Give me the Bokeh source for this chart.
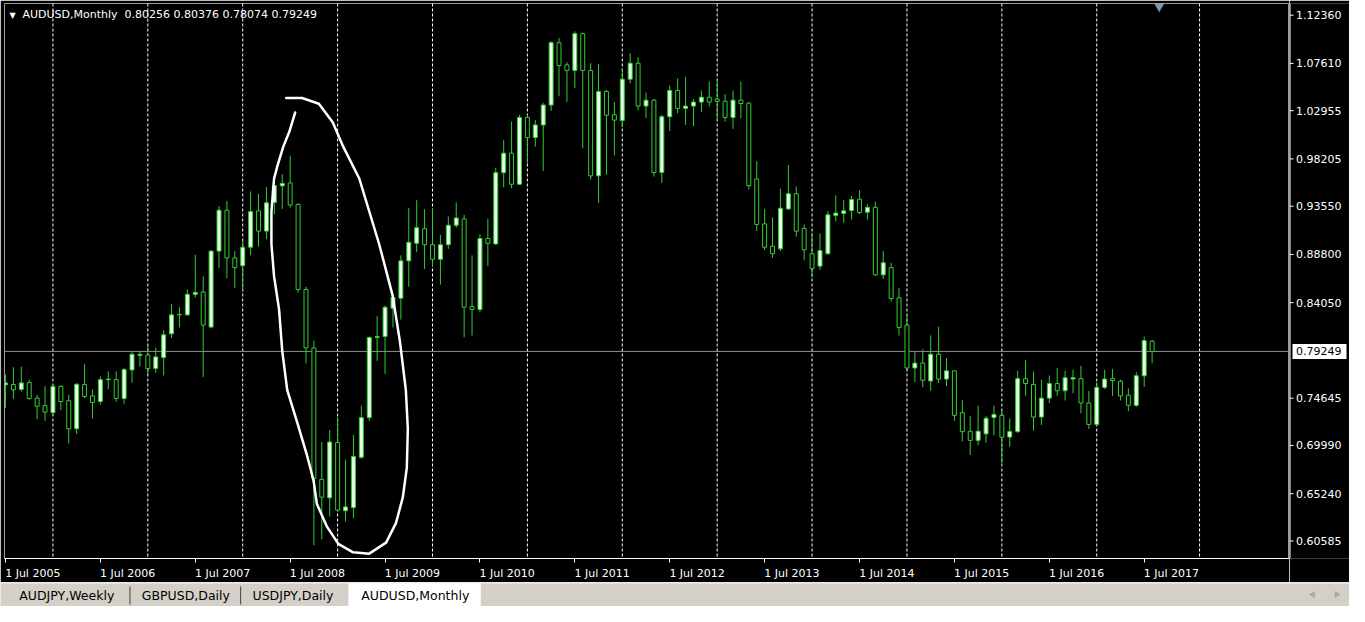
from bokeh.plotting import figure
from bokeh.models import Range1d, LinearAxis, FixedTicker, Span, Label, ColumnDataSource
from bokeh.layouts import column, row
from bokeh.embed import file_html
from bokeh.resources import INLINE
from bokeh.core.properties import value

# ---------------- data (AUDUSD monthly, Jul 2005 .. Aug 2017) ----------------
opens = [0.7595, 0.7599, 0.7551, 0.7618, 0.7465, 0.7391, 0.7322, 0.7580, 0.7439, 0.7164,
         0.7599, 0.7487, 0.7432, 0.7647, 0.7647, 0.7461, 0.7743, 0.7884, 0.7890, 0.7758,
         0.7864, 0.8098, 0.8285, 0.8285, 0.8487, 0.8510, 0.8165, 0.8913, 0.9316, 0.8846,
         0.8769, 0.8951, 0.9309, 0.9110, 0.9392, 0.9555, 0.9584, 0.9373, 0.8535, 0.7960,
         0.6665, 0.6483, 0.7027, 0.6356, 0.6387, 0.6883, 0.7273, 0.8062, 0.8072, 0.8350,
         0.8449, 0.8817, 0.8990, 0.9133, 0.8976, 0.8832, 0.8976, 0.9168, 0.9229, 0.8366,
         0.8338, 0.9037, 0.8983, 0.9685, 0.9877, 0.9571, 1.0229, 1.0031, 1.0155, 1.0351,
         1.0965, 1.0747, 1.0692, 1.1054, 1.0692, 0.9654, 1.0485, 1.0255, 1.0198, 1.0606,
         1.0763, 1.0341, 1.0399, 0.9686, 1.0236, 1.0495, 1.0318, 1.0341, 1.0380, 1.0428,
         1.0409, 1.0389, 1.0229, 1.0399, 1.0370, 0.9622, 0.9181, 0.8961, 0.8935, 0.9328,
         0.9478, 0.9136, 0.8887, 0.8765, 0.8887, 0.9264, 0.9283, 0.9312, 0.9424, 0.9296,
         0.9344, 0.8679, 0.8750, 0.8453, 0.8184, 0.7762, 0.7810, 0.7634, 0.7897, 0.7653,
         0.7734, 0.7321, 0.7139, 0.7049, 0.7113, 0.7273, 0.7295, 0.7082, 0.7135, 0.7657,
         0.7599, 0.7279, 0.7465, 0.7609, 0.7538, 0.7653, 0.7657, 0.7417, 0.7206, 0.7571,
         0.7657, 0.7631, 0.7494, 0.7394, 0.7685, 0.80256]
highs = [0.7698, 0.7768, 0.7775, 0.7647, 0.7497, 0.7583, 0.7593, 0.7593, 0.7497, 0.7609,
         0.7800, 0.7551, 0.7679, 0.7729, 0.7729, 0.7762, 0.7919, 0.7928, 0.7986, 0.7960,
         0.8136, 0.8391, 0.8360, 0.8535, 0.8877, 0.8664, 0.8919, 0.9357, 0.9405, 0.8913,
         0.9015, 0.9500, 0.9478, 0.9542, 0.9622, 0.9670, 0.9852, 0.9383, 0.8561, 0.8031,
         0.7033, 0.7151, 0.7273, 0.6858, 0.7103, 0.7391, 0.8072, 0.8273, 0.8376, 0.8465,
         0.8871, 0.9335, 0.9414, 0.9325, 0.9335, 0.9072, 0.9254, 0.9392, 0.9270, 0.8871,
         0.9079, 0.9232, 0.9734, 1.0006, 1.0188, 1.0255, 1.0255, 1.0203, 1.0373, 1.0980,
         1.1013, 1.0773, 1.1076, 1.1066, 1.0763, 1.0757, 1.0500, 1.0383, 1.0709, 1.0862,
         1.0821, 1.0476, 1.0411, 1.0255, 1.0543, 1.0613, 1.0629, 1.0411, 1.0495, 1.0581,
         1.0596, 1.0459, 1.0495, 1.0581, 1.0380, 0.9798, 0.9328, 0.9245, 0.9526, 0.9760,
         0.9549, 0.9175, 0.9095, 0.9088, 0.9309, 0.9462, 0.9414, 0.9456, 0.9510, 0.9373,
         0.9398, 0.8913, 0.8798, 0.8551, 0.8295, 0.7919, 0.7945, 0.8082, 0.8168, 0.7858,
         0.7736, 0.7449, 0.7289, 0.7391, 0.7289, 0.7391, 0.7334, 0.7265, 0.7736, 0.7839,
         0.7727, 0.7647, 0.7688, 0.7762, 0.7736, 0.7746, 0.7784, 0.7535, 0.7619, 0.7746,
         0.7753, 0.7647, 0.7561, 0.7720, 0.8072, 0.80376]
lows = [0.7369, 0.7458, 0.7528, 0.7449, 0.7257, 0.7241, 0.7299, 0.7347, 0.7017, 0.7113,
        0.7465, 0.7263, 0.7400, 0.7554, 0.7430, 0.7410, 0.7615, 0.7775, 0.7705, 0.7711,
        0.7688, 0.8056, 0.8161, 0.8273, 0.8456, 0.7672, 0.8152, 0.8743, 0.8647, 0.8552,
        0.8513, 0.8871, 0.8957, 0.9031, 0.9273, 0.9328, 0.9341, 0.8503, 0.7806, 0.6017,
        0.6075, 0.6298, 0.6346, 0.6250, 0.6282, 0.6867, 0.7241, 0.7832, 0.7705, 0.8161,
        0.8238, 0.8561, 0.8903, 0.8736, 0.8765, 0.8583, 0.8935, 0.9143, 0.8065, 0.8082,
        0.8312, 0.8765, 0.8976, 0.9542, 0.9532, 0.9565, 0.9781, 0.9942, 0.9702, 1.0293,
        1.0437, 1.0383, 1.0517, 0.9925, 0.9616, 0.9389, 0.9664, 0.9855, 1.0133, 1.0565,
        1.0299, 1.0223, 0.9647, 0.9584, 1.0095, 1.0270, 1.0155, 1.0143, 1.0284, 1.0338,
        1.0198, 1.0188, 1.0117, 1.0220, 0.9520, 0.9110, 0.8925, 0.8849, 0.8913, 0.9318,
        0.9053, 0.8823, 0.8657, 0.8727, 0.8877, 0.9206, 0.9191, 0.9223, 0.9277, 0.9223,
        0.8669, 0.8638, 0.8417, 0.8082, 0.7736, 0.7624, 0.7571, 0.7538, 0.7615, 0.7583,
        0.7241, 0.7039, 0.6905, 0.7001, 0.7024, 0.7097, 0.6826, 0.6986, 0.7123, 0.7487,
        0.7145, 0.7200, 0.7417, 0.7487, 0.7442, 0.7513, 0.7315, 0.7161, 0.7193, 0.7554,
        0.7487, 0.7442, 0.7337, 0.7379, 0.7576, 0.78074]
closes = [0.7615, 0.7547, 0.7615, 0.7461, 0.7385, 0.7327, 0.7580, 0.7432, 0.7164, 0.7602,
          0.7481, 0.7423, 0.7647, 0.7653, 0.7461, 0.7746, 0.7897, 0.7897, 0.7756, 0.7871,
          0.8088, 0.8285, 0.8289, 0.8487, 0.8506, 0.8184, 0.8913, 0.9316, 0.8846, 0.8750,
          0.8951, 0.9302, 0.9110, 0.9388, 0.9558, 0.9580, 0.9367, 0.8535, 0.7960, 0.6675,
          0.6490, 0.7033, 0.6363, 0.6394, 0.6890, 0.7273, 0.8062, 0.8072, 0.8360, 0.8455,
          0.8817, 0.8999, 0.9143, 0.8976, 0.8832, 0.8976, 0.9168, 0.9239, 0.8360, 0.8338,
          0.9037, 0.8990, 0.9685, 0.9877, 0.9571, 1.0229, 1.0031, 1.0155, 1.0351, 1.0965,
          1.0740, 1.0692, 1.1054, 1.0692, 0.9654, 1.0485, 1.0251, 1.0203, 1.0606, 1.0763,
          1.0341, 1.0399, 0.9686, 1.0236, 1.0495, 1.0318, 1.0341, 1.0380, 1.0428, 1.0380,
          1.0386, 1.0229, 1.0399, 1.0366, 0.9558, 0.9175, 0.8951, 0.8887, 0.9335, 0.9478,
          0.9110, 0.8925, 0.8743, 0.8919, 0.9270, 0.9287, 0.9309, 0.9421, 0.9293, 0.9344,
          0.8679, 0.8798, 0.8446, 0.8161, 0.7762, 0.7810, 0.7641, 0.7897, 0.7653, 0.7734,
          0.7295, 0.7135, 0.7049, 0.7139, 0.7267, 0.7305, 0.7080, 0.7137, 0.7657, 0.7609,
          0.7279, 0.7465, 0.7609, 0.7538, 0.7666, 0.7666, 0.7417, 0.7206, 0.7571, 0.7653,
          0.7638, 0.7487, 0.7394, 0.7685, 0.8031, 0.79249]

# month index 0 = Jul 2005
date_tick_idx = [0, 12, 24, 36, 48, 60, 72, 84, 96, 108, 120, 132, 144]
date_tick_labels = ["1 Jul 2005", "1 Jul 2006", "1 Jul 2007", "1 Jul 2008", "1 Jul 2009",
                    "1 Jul 2010", "1 Jul 2011", "1 Jul 2012", "1 Jul 2013", "1 Jul 2014",
                    "1 Jul 2015", "1 Jul 2016", "1 Jul 2017"]
grid_idx = [6, 18, 30, 42, 54, 66, 78, 90, 102, 114, 126, 138, 151]
price_ticks = [1.12360, 1.07610, 1.02955, 0.98205, 0.93550, 0.88800, 0.84050,
               0.74645, 0.69990, 0.65240, 0.60585]
last_price = 0.79249
title_text = "AUDUSD,Monthly\u00a0\u00a00.80256 0.80376 0.78074 0.79249"

# hand-drawn loop (month index, price)
loop_x = [36.63, 35.88, 35.13, 34.38, 33.96, 33.63, 33.63, 33.96, 34.59, 35.0, 35.63, 36.88,
          38.13, 38.96, 39.38, 40.63, 42.09, 43.96, 46.0, 48.13, 49.38, 50.25, 50.75, 50.88,
          50.63, 49.88, 48.96, 47.25, 44.75, 42.71, 41.38, 39.63, 37.5, 35.5]
loop_y = [1.02772, 1.00854, 0.99416, 0.97498, 0.96252, 0.92992, 0.89828, 0.86664, 0.83433,
          0.79281, 0.75446, 0.72282, 0.69022, 0.66529, 0.64228, 0.62023, 0.60297, 0.59463,
          0.59338, 0.60422, 0.62339, 0.64899, 0.67776, 0.71611, 0.75446, 0.80240, 0.84746,
          0.89828, 0.96252, 0.99416, 1.01813, 1.03635, 1.04210, 1.04210]

tab_names = ["AUDJPY,Weekly", "GBPUSD,Daily", "USDJPY,Daily", "AUDUSD,Monthly"]
tab_text_x = [19, 143, 255, 365]

# ---------------- styling ----------------
GREEN = "#33cc33"
BULL_FILL = "#eaffea"
FONT = "DejaVu Sans"
LABEL_SHIFT = 3.45   # centre of a left-aligned date label, in months

X0, X1 = -0.125, 162.375
Y0, Y1 = 0.58859, 1.13510

p = figure(frame_width=1285, frame_height=555, x_range=Range1d(X0, X1),
           y_range=Range1d(Y0, Y1),
           output_backend="svg", toolbar_location=None,
           x_axis_location=None, y_axis_location=None,
           min_border_left=4, min_border_top=3, min_border_right=0, min_border_bottom=24,
           background_fill_color="black", border_fill_color="black",
           outline_line_color="#9a9a9a")
p.xgrid.visible = False
p.ygrid.visible = False

xax = LinearAxis(ticker=FixedTicker(ticks=[t + LABEL_SHIFT for t in date_tick_idx],
                                    minor_ticks=date_tick_idx),
                 major_label_overrides={t + LABEL_SHIFT: s
                                        for t, s in zip(date_tick_idx, date_tick_labels)},
                 axis_line_color="white", major_tick_line_color=None,
                 major_tick_out=0, major_tick_in=0,
                 minor_tick_line_color="white", minor_tick_out=4, minor_tick_in=0,
                 major_label_text_color="white", major_label_text_font=FONT,
                 major_label_text_font_size="11px", major_label_standoff=4)
p.add_layout(xax, "below")

for g in grid_idx:
    p.add_layout(Span(location=g, dimension="height", line_color="white",
                      line_dash="3 2", line_width=1, level="underlay"))

p.add_layout(Span(location=last_price, dimension="width", line_color="#8e8e8e",
                  line_width=1, level="underlay"))

idx = list(range(len(opens)))
tops = [max(o, c) for o, c in zip(opens, closes)]
bots = [min(o, c) for o, c in zip(opens, closes)]
fills = [BULL_FILL if c >= o else "black" for o, c in zip(opens, closes)]
src = ColumnDataSource(dict(x=idx, h=highs, l=lows, top=tops, bottom=bots, fill=fills))
p.segment(x0="x", y0="h", x1="x", y1="l", source=src, line_color=GREEN, line_width=1)
p.vbar(x="x", width=0.5, top="top", bottom="bottom", fill_color="fill",
       line_color=GREEN, line_width=1, source=src)

p.line(loop_x, loop_y, line_color="white", line_width=2.5,
       line_join="round", line_cap="round")

p.scatter([145.9], [1.1322], marker="inverted_triangle", size=10,
          fill_color="#8196b5", line_color=None)

p.add_layout(Label(x=X0, y=Y1, text="▼", x_offset=5, y_offset=-7,
                   text_baseline="top", text_color="white", text_font=FONT,
                   text_font_size="8px"))
p.add_layout(Label(x=X0, y=Y1, text=title_text, x_offset=18, y_offset=-4,
                   text_baseline="top", text_color="white", text_font=FONT,
                   text_font_size="11px"))

# ---------------- price scale strip (right) ----------------
s = figure(frame_width=60, frame_height=555, x_range=Range1d(0, 60), y_range=p.y_range,
           output_backend="svg", toolbar_location=None,
           x_axis_location=None, y_axis_location=None,
           min_border_left=0, min_border_right=0, min_border_top=3, min_border_bottom=24,
           background_fill_color="black", border_fill_color="black",
           outline_line_color=None)
s.xgrid.visible = False
s.ygrid.visible = False
s.segment(x0=[0.5], y0=[Y0], x1=[0.5], y1=[Y1], line_color="white", line_width=1)
s.segment(x0=0, y0=price_ticks, x1=4, y1=price_ticks, line_color="white", line_width=1)
s.text(x=6.5, y=price_ticks, text=["%.5f" % v for v in price_ticks],
       text_baseline="middle", text_color="white", text_font=value(FONT),
       text_font_size="11px")
s.rect(x=[30], y=[last_price], width=54, height=15, height_units="screen",
       fill_color="white", line_color=None)
s.text(x=6.5, y=[last_price], text=["%.5f" % last_price], text_baseline="middle",
       text_color="black", text_font=value(FONT), text_font_size="11px")

# ---------------- tab bar ----------------
t = figure(width=1349, height=24, x_range=Range1d(0, 1365), y_range=Range1d(622, 598),
           output_backend="svg", toolbar_location=None,
           x_axis_location=None, y_axis_location=None,
           min_border=0, background_fill_color="#d4d0c8", border_fill_color="#d4d0c8",
           outline_line_color=None)
t.xgrid.visible = False
t.ygrid.visible = False
t.quad(left=[352], right=[486], top=[598], bottom=[622], fill_color="white", line_color=None)
t.segment(x0=[0], y0=[598.5], x1=[1365], y1=[598.5], line_color="#f4f4f4", line_width=1)
t.segment(x0=[131, 243], y0=[602, 602], x1=[131, 243], y1=[620, 620],
          line_color="#404040", line_width=1)
t.text(x=tab_text_x, y=[610.5] * 4, text=tab_names, text_baseline="middle",
       text_font=value(FONT), text_font_size="12.5px", text_color="black")
t.scatter([1328, 1352], [610, 610], marker="triangle", angle=[1.5708, -1.5708],
          size=7, fill_color="#a8a8a8", line_color=None)

layout = column(row(p, s, spacing=0), t, spacing=0)
open("out.html", "w").write(file_html(layout, INLINE))
